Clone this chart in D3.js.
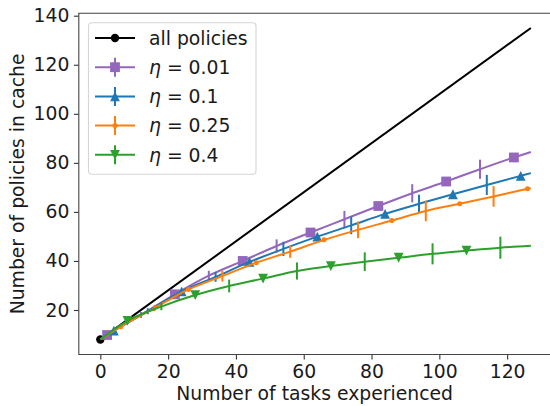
<!DOCTYPE html>
<html>
<head>
<meta charset="utf-8">
<script src="https://cdnjs.cloudflare.com/ajax/libs/d3/7.8.5/d3.min.js"></script>
<style>
	body { margin: 0; background: #fff; }
	svg { display: block; font-family: "DejaVu Sans", sans-serif; }
</style>
</head>
<body>
<div id="chart"></div>
<script>
// data
var allX = [0, 127];
var allY = [8, 135];

var etaLabels = ["0.01", "0.1", "0.25", "0.4"];
var markOffsets = [2, 4, 6, 8];

var x001 = [0, 2, 12, 22, 32, 42, 52, 62, 72, 82, 92, 102, 112, 122, 127];
var y001 = [8, 9.8, 18.0, 26.4, 34.0, 40.0, 46.1, 51.6, 57.0, 62.4, 67.6, 72.4, 77.4, 82.2, 84.4];
var e001 = [null, null, 1.2, null, 2.0, null, 2.7, null, 3.4, null, 3.7, null, 3.9, null, null];

var x01 = [0, 4, 14, 24, 34, 44, 54, 64, 74, 84, 94, 104, 114, 124, 127];
var y01 = [8, 11.6, 19.5, 27.6, 33.5, 39.6, 44.9, 49.9, 54.5, 59.2, 63.3, 67.2, 71.0, 74.7, 75.8];
var e01 = [null, null, 1.2, null, 2.0, null, 2.9, null, 3.6, null, 3.7, null, 4.1, null, null];

var x025 = [0, 6, 16, 26, 36, 46, 56, 66, 76, 86, 96, 106, 116, 126, 127];
var y025 = [8, 13.2, 20.8, 28.4, 33.8, 39.3, 43.8, 48.6, 52.7, 56.5, 60.4, 63.3, 66.3, 69.4, 69.7];
var e025 = [null, null, 1.3, null, 2.2, null, 2.5, null, 3.4, null, 4.2, null, 4.2, null, null];

var x04 = [0, 8, 18, 28, 38, 48, 58, 68, 78, 88, 98, 108, 118, 127];
var y04 = [8, 15.6, 21.4, 26.1, 29.8, 32.8, 35.9, 37.9, 39.7, 41.3, 42.9, 44.2, 45.4, 46.2];
var e04 = [null, null, 1.5, null, 2.6, null, 3.5, null, 3.8, null, 4.3, null, 4.5, null];

var xTicks = [0, 20, 40, 60, 80, 100, 120];
var yTicks = [20, 40, 60, 80, 100, 120, 140];

var colors = ["#9467bd", "#1f77b4", "#ff7f0e", "#2ca02c"];
var shapes = ["square", "up", "dot", "down"];

var drawChart = function(selector) {
	var zip = function(xs, ys, es) {
		return xs.map(function(v, i) { return { x: v, y: ys[i], e: es ? es[i] : null }; });
	};

	var series = [
		zip(x001, y001, e001),
		zip(x01, y01, e01),
		zip(x025, y025, e025),
		zip(x04, y04, e04)
	];

	var W = 550, H = 406;
	var mLeft = 78.8, mRight = 552.4, mTop = 13.3, mBottom = 354.5;
	var fs = "18.8px";

	var x = d3.scaleLinear().domain([-6.35, 133.35]).range([mLeft, mRight]);
	var y = d3.scaleLinear().domain([1.855, 140.98]).range([mBottom, mTop]);

	var svg = d3.select(selector).append("svg")
		.attr("width", W)
		.attr("height", H);

	var markerPath = function(shape) {
		// roughly matplotlib ms=7 at 100 dpi
		var s = 4.9;
		if (shape == "square") return "M" + -s + "," + -s + "H" + s + "V" + s + "H" + -s + "Z";
		if (shape == "up") return "M0," + -s + "L" + s + "," + s + "L" + -s + "," + s + "Z";
		if (shape == "down") return "M0," + s + "L" + s + "," + -s + "L" + -s + "," + -s + "Z";
		return null;
	};

	var drawMarker = function(g, shape, c, px, py) {
		if (shape == "dot") {
			g.append("circle").attr("cx", px).attr("cy", py).attr("r", 2.5).attr("fill", c);
		} else {
			g.append("path")
				.attr("d", markerPath(shape))
				.attr("transform", "translate(" + px + "," + py + ")")
				.attr("fill", c);
		}
	};

	// axes
	var xAxis = svg.append("g")
		.attr("transform", "translate(0," + mBottom + ")")
		.call(d3.axisBottom(x).tickValues(xTicks).tickSize(4.9).tickPadding(5.4));
	var yAxis = svg.append("g")
		.attr("transform", "translate(" + mLeft + ",0)")
		.call(d3.axisLeft(y).tickValues(yTicks).tickSize(4.9).tickPadding(4.5));

	[xAxis, yAxis].forEach(function(a) {
		a.select(".domain").remove();
		a.attr("font-size", null).attr("font-family", null);
		a.selectAll("line").attr("stroke", "#333").attr("stroke-width", 1.1);
		a.selectAll("text")
			.style("font-family", "DejaVu Sans")
			.style("font-size", fs)
			.attr("fill", "#1a1a1a");
	});

	// spines
	svg.append("path")
		.attr("d", "M" + mLeft + "," + mTop + "V" + mBottom + "H" + mRight + "V" + mTop + "Z")
		.attr("fill", "none")
		.attr("stroke", "#444")
		.attr("stroke-width", 1.1);

	var lineFunction = d3.line()
		.x(function(d) { return x(d.x); })
		.y(function(d) { return y(d.y); })
		.curve(d3.curveMonotoneX);

	// all policies
	svg.append("path")
		.attr("d", d3.line()(allX.map(function(v, i) { return [x(v), y(allY[i])]; })))
		.attr("stroke", "black")
		.attr("stroke-width", 2)
		.attr("fill", "none");
	svg.append("circle")
		.attr("cx", x(allX[0]))
		.attr("cy", y(allY[0]))
		.attr("r", 4.2)
		.attr("fill", "black");

	// eta series
	series.forEach(function(data, k) {
		var c = colors[k];
		var g = svg.append("g");
		g.append("path")
			.attr("d", lineFunction(data))
			.attr("stroke", c)
			.attr("stroke-width", 2)
			.attr("fill", "none");
		data.forEach(function(d) {
			if (d.e != null) {
				g.append("line")
					.attr("x1", x(d.x)).attr("x2", x(d.x))
					.attr("y1", y(d.y - d.e)).attr("y2", y(d.y + d.e))
					.attr("stroke", c)
					.attr("stroke-width", 2);
			}
			if (d.x > 0 && (d.x - markOffsets[k]) % 20 == 0) {
				drawMarker(g, shapes[k], c, x(d.x), y(d.y));
			}
		});
	});

	// legend
	var leg = svg.append("g");
	leg.append("rect")
		.attr("x", 88.5).attr("y", 22.7)
		.attr("width", 167.5).attr("height", 151.5)
		.attr("rx", 3.5)
		.attr("fill", "white")
		.attr("fill-opacity", 0.8)
		.attr("stroke", "#d6d6d6")
		.attr("stroke-width", 1.1);

	var rowY = function(i) { return 38 + i * 29.2; };
	var hx0 = 95, hx1 = 135, hxm = 115, tx = 149;

	leg.append("line")
		.attr("x1", hx0).attr("x2", hx1).attr("y1", rowY(0)).attr("y2", rowY(0))
		.attr("stroke", "black").attr("stroke-width", 2);
	leg.append("circle").attr("cx", hxm).attr("cy", rowY(0)).attr("r", 4.2).attr("fill", "black");
	leg.append("text")
		.attr("x", tx).attr("y", rowY(0))
		.attr("dy", "0.36em")
		.style("font-size", fs)
		.attr("fill", "#1a1a1a")
		.text("all policies");

	etaLabels.forEach(function(lab, k) {
		var ry = rowY(k + 1);
		var c = colors[k];
		leg.append("line")
			.attr("x1", hx0).attr("x2", hx1).attr("y1", ry).attr("y2", ry)
			.attr("stroke", c).attr("stroke-width", 2);
		leg.append("line")
			.attr("x1", hxm).attr("x2", hxm).attr("y1", ry - 9.5).attr("y2", ry + 9.5)
			.attr("stroke", c).attr("stroke-width", 2);
		drawMarker(leg, shapes[k], c, hxm, ry);
		var t = leg.append("text")
			.attr("x", tx).attr("y", ry)
			.attr("dy", "0.36em")
			.style("font-size", fs)
			.attr("fill", "#1a1a1a");
		t.append("tspan").attr("font-style", "italic").text("η");
		t.append("tspan").text(" = " + lab);
	});

	// axis labels
	svg.append("text")
		.attr("x", (mLeft + mRight) / 2 - 1)
		.attr("y", 399.5)
		.attr("text-anchor", "middle")
		.style("font-size", fs)
		.attr("fill", "#1a1a1a")
		.text("Number of tasks experienced");

	svg.append("text")
		.attr("transform", "translate(24," + ((mTop + mBottom) / 2) + ") rotate(-90)")
		.attr("text-anchor", "middle")
		.style("font-size", fs)
		.attr("fill", "#1a1a1a")
		.text("Number of policies in cache");
};

drawChart("#chart");
</script>
</body>
</html>
